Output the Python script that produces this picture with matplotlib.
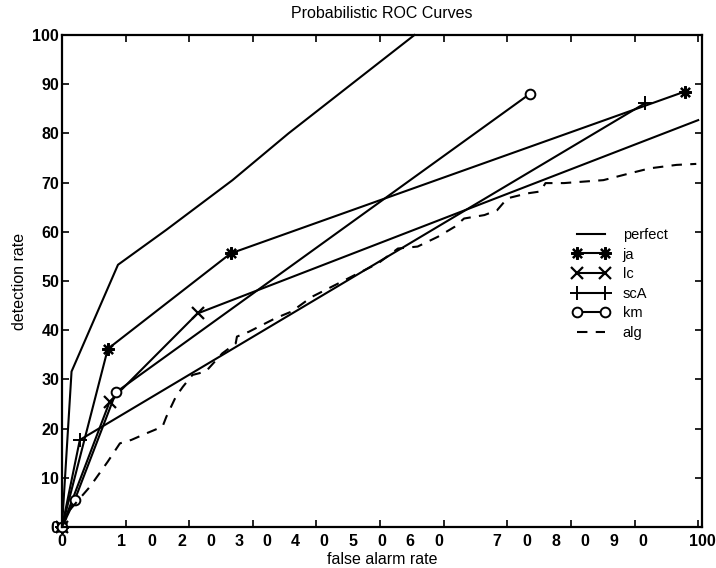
import matplotlib
matplotlib.use("Agg")
import matplotlib.pyplot as plt

# ── Curve data ───────────────────────────────────────────────────────────────
perfect_x = [0, 1.5, 8.8, 16.4, 26.8, 35.6, 45.0, 55.4]
perfect_y = [0, 31.6, 53.3, 60.4, 70.5, 80.0, 89.5, 100]

ja_x = [0, 7.2, 26.5, 97.9]
ja_y = [0, 36.2, 55.6, 88.5]

lc_x = [0, 7.5, 21.3, 100]
lc_y = [0, 25.5, 43.4, 82.7]

scA_x = [0, 2.8, 91.6]
scA_y = [0, 17.7, 86.1]

km_x = [0, 2.0, 8.5, 73.5]
km_y = [0, 5.5, 27.4, 88.0]

alg_x = [0, 1.25, 4.4, 7.2, 9.1, 10.9, 13.2, 15.8, 16.4, 17.9, 19.0, 20.5,
         22.6, 25.2, 27.3, 27.5, 29.4, 33.5, 36.1, 39.3, 41.9, 46.0, 49.7,
         52.8, 55.9, 59.1, 61.7, 63.2, 66.4, 68.4, 70.0, 73.1, 75.2, 76.0,
         78.9, 85.1, 89.3, 92.4, 96.6, 99.7]
alg_y = [0, 3.5, 8.2, 13.3, 17.0, 17.7, 19.0, 20.4, 22.4, 26.5, 28.5, 30.9,
         31.6, 35.3, 37.3, 38.7, 39.7, 42.4, 43.8, 46.8, 48.5, 51.2, 53.6,
         56.6, 57.0, 59.0, 61.0, 62.7, 63.4, 64.4, 66.8, 67.8, 68.2, 69.9,
         69.9, 70.5, 71.9, 72.9, 73.6, 73.8]

# x tick labels come out split into single digits in the scan
xlabel_pos = [0, 9.4, 14.1, 18.9, 23.4, 27.8, 32.2, 36.7, 41.2, 45.8, 50.3,
              54.7, 59.2, 68.4, 73.1, 77.7, 82.2, 86.7, 91.3, 100.6]
xlabel_txt = ["0", "1", "0", "2", "0", "3", "0", "4", "0", "5", "0",
              "6", "0", "7", "0", "8", "0", "9", "0", "100"]
tick_vals = [0, 10, 20, 30, 40, 50, 60, 70, 80, 90, 100]

plt.rcParams["font.family"] = ["Liberation Sans", "DejaVu Sans"]

fig = plt.figure(figsize=(7.16, 5.68), dpi=100)
ax = fig.add_axes([62 / 716, 41 / 568, 640 / 716, 492 / 568])

lw = 1.5
ax.plot(perfect_x, perfect_y, color="black", lw=lw, label="perfect")
ax.plot(ja_x, ja_y, color="black", lw=lw, marker=(8, 2, 0), ms=9, mew=1.6,
        label="ja")
ax.plot(lc_x, lc_y, color="black", lw=lw, marker="x", ms=8, mew=1.6,
        markevery=[0, 1, 2], label="lc")
ax.plot(scA_x, scA_y, color="black", lw=lw, marker="+", ms=10, mew=1.4,
        label="scA")
ax.plot(km_x, km_y, color="black", lw=lw, marker="o", ms=7, mew=1.4,
        mfc="white", label="km")
ax.plot(alg_x, alg_y, color="black", lw=lw, ls=(0, (5, 4)), label="alg")

for ln in ax.lines:
    ln.set_clip_on(False)

ax.set_xlim(0, 100)
ax.set_ylim(0, 100)

# real ticks every 10, labels placed where the scan shows the digits
ax.set_xticks(tick_vals, minor=True)
ax.set_xticks(xlabel_pos)
ax.set_xticklabels(xlabel_txt, fontsize=11.5, fontweight="bold")
ax.tick_params(axis="x", which="major", length=0, pad=5)
ax.tick_params(axis="x", which="minor", direction="in", length=5, width=1.2,
               top=True, bottom=True)
ax.set_yticks(tick_vals)
ax.set_yticklabels([str(v) for v in tick_vals], fontsize=11.5,
                   fontweight="bold")
ax.tick_params(axis="y", direction="in", length=5, width=1.2, right=True,
               pad=2)

for sp in ax.spines.values():
    sp.set_linewidth(1.6)

ax.set_xlabel("false alarm rate", fontsize=11.5, labelpad=2)
ax.set_ylabel("detection rate", fontsize=11.5, labelpad=4)
ax.set_title("Probabilistic ROC Curves", fontsize=11.5, pad=12)

ax.legend(loc="upper left", bbox_to_anchor=(573 / 716, 1 - 228 / 568),
          bbox_transform=fig.transFigure, frameon=False, fontsize=10.5,
          handlelength=2.5, handletextpad=0.9, labelspacing=0.38,
          borderpad=0, borderaxespad=0, numpoints=2)

fig.savefig("out.png", dpi=100)
